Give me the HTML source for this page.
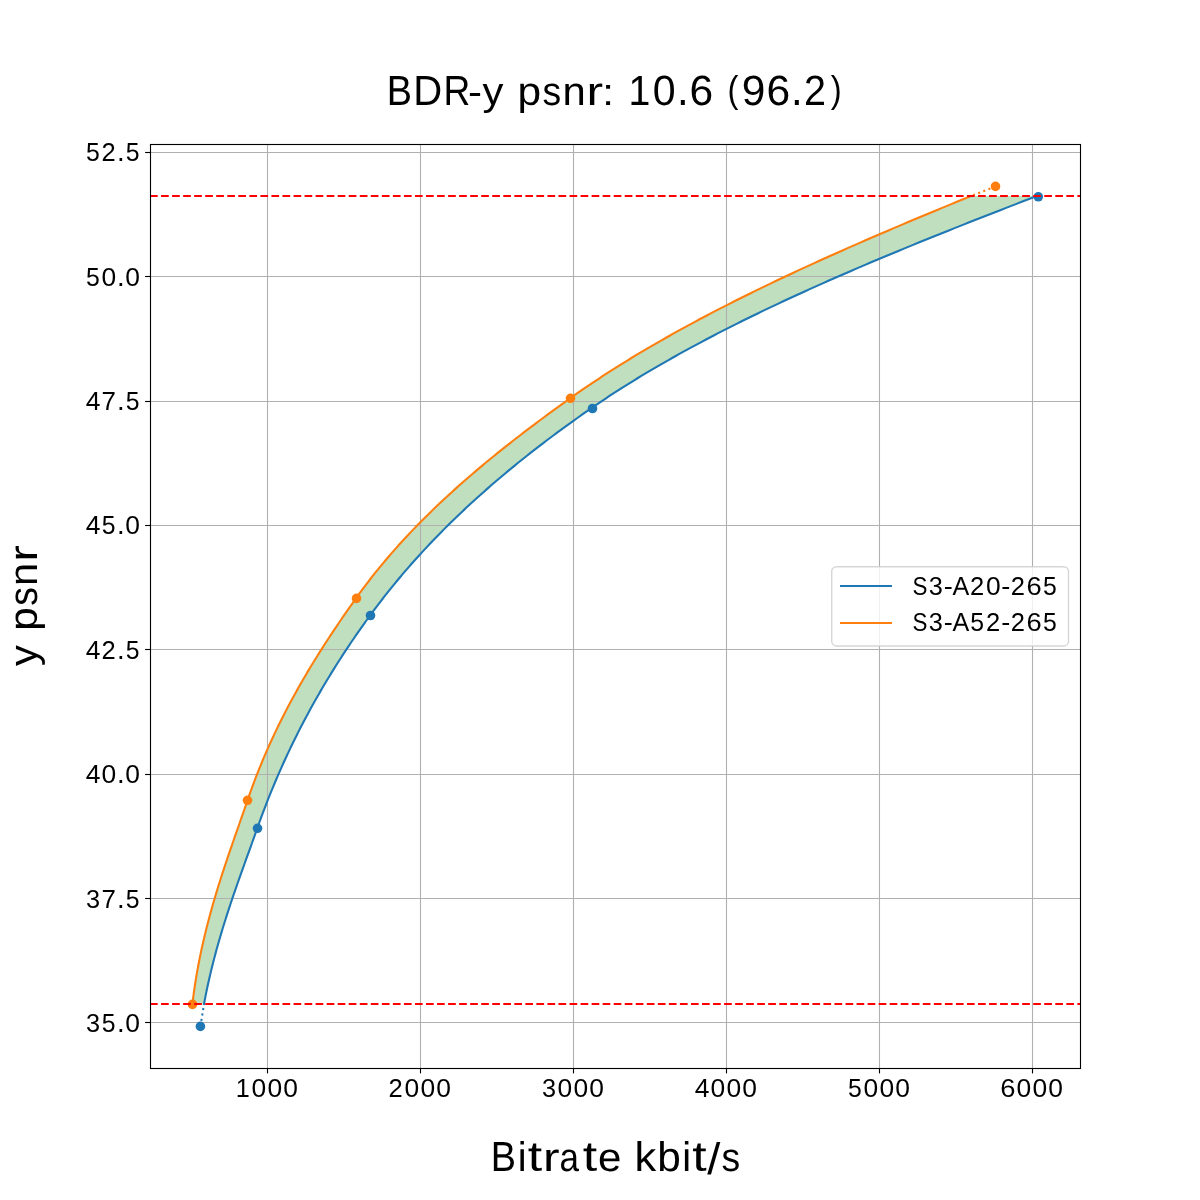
<!DOCTYPE html>
<html><head><meta charset="utf-8"><title>BDR-y psnr</title>
<style>html,body{margin:0;padding:0;background:#fff}body{width:1200px;height:1200px;overflow:hidden}</style>
</head><body>
<svg width="1200" height="1200" viewBox="0 0 1200 1200" style="display:block;will-change:transform;font-family:'Liberation Sans',sans-serif">
<rect width="1200" height="1200" fill="#fff"/>
<clipPath id="ax"><rect x="150" y="144" width="930" height="924"/></clipPath>
<g clip-path="url(#ax)">
<polygon points="192.41,1004.00 192.65,1001.97 192.90,999.95 193.15,997.92 193.42,995.90 193.69,993.87 193.97,991.85 194.25,989.82 194.55,987.80 194.85,985.77 195.16,983.75 195.48,981.72 195.80,979.70 196.13,977.67 196.47,975.65 196.82,973.62 197.17,971.60 197.54,969.57 197.91,967.55 198.28,965.52 198.67,963.50 199.06,961.47 199.46,959.45 199.86,957.42 200.28,955.40 200.70,953.37 201.13,951.35 201.56,949.32 202.00,947.30 202.45,945.27 202.91,943.25 203.37,941.22 203.84,939.20 204.31,937.17 204.79,935.15 205.28,933.12 205.78,931.10 206.28,929.07 206.79,927.05 207.31,925.02 207.83,923.00 208.36,920.97 208.89,918.95 209.43,916.92 209.98,914.90 210.53,912.87 211.09,910.85 211.65,908.82 212.22,906.80 212.80,904.77 213.38,902.75 213.97,900.72 214.56,898.70 215.16,896.67 215.77,894.65 216.38,892.62 216.99,890.60 217.61,888.57 218.24,886.55 218.87,884.52 219.50,882.50 220.14,880.47 220.78,878.45 221.43,876.42 222.08,874.40 222.74,872.37 223.40,870.35 224.07,868.32 224.74,866.30 225.41,864.27 226.08,862.25 226.76,860.22 227.44,858.20 228.13,856.17 228.82,854.15 229.51,852.12 230.20,850.10 230.90,848.07 231.60,846.05 232.30,844.02 233.00,841.99 233.70,839.97 234.41,837.94 235.11,835.92 235.82,833.89 236.53,831.87 237.24,829.84 237.95,827.82 238.66,825.79 239.37,823.77 240.08,821.74 240.79,819.72 241.49,817.69 242.20,815.67 242.91,813.64 243.61,811.62 244.32,809.59 245.02,807.57 245.72,805.54 246.41,803.52 247.11,801.49 247.80,799.47 248.50,797.44 249.20,795.42 249.92,793.39 250.64,791.37 251.37,789.34 252.10,787.32 252.85,785.29 253.60,783.27 254.36,781.24 255.13,779.22 255.91,777.19 256.70,775.17 257.49,773.14 258.29,771.12 259.10,769.09 259.92,767.07 260.74,765.04 261.58,763.02 262.42,760.99 263.27,758.97 264.13,756.94 265.00,754.92 265.87,752.89 266.75,750.87 267.65,748.84 268.54,746.82 269.45,744.79 270.37,742.77 271.29,740.74 272.23,738.72 273.17,736.69 274.12,734.67 275.07,732.64 276.04,730.62 277.01,728.59 277.99,726.57 278.98,724.54 279.98,722.52 280.99,720.49 282.01,718.47 283.03,716.44 284.06,714.42 285.10,712.39 286.15,710.37 287.21,708.34 288.27,706.32 289.34,704.29 290.42,702.27 291.51,700.24 292.61,698.22 293.72,696.19 294.83,694.17 295.95,692.14 297.08,690.12 298.22,688.09 299.36,686.07 300.52,684.04 301.68,682.02 302.85,679.99 304.03,677.96 305.21,675.94 306.41,673.91 307.61,671.89 308.82,669.86 310.03,667.84 311.26,665.81 312.49,663.79 313.73,661.76 314.97,659.74 316.23,657.71 317.49,655.69 318.76,653.66 320.03,651.64 321.32,649.61 322.61,647.59 323.90,645.56 325.21,643.54 326.52,641.51 327.84,639.49 329.16,637.46 330.49,635.44 331.83,633.41 333.18,631.39 334.53,629.36 335.89,627.34 337.25,625.31 338.62,623.29 340.00,621.26 341.38,619.24 342.77,617.21 344.16,615.19 345.56,613.16 346.96,611.14 348.37,609.11 349.79,607.09 351.21,605.06 352.63,603.04 354.06,601.01 355.50,598.99 356.94,596.96 358.39,594.94 359.86,592.91 361.35,590.89 362.84,588.86 364.35,586.84 365.88,584.81 367.42,582.79 368.98,580.76 370.55,578.74 372.13,576.71 373.73,574.69 375.34,572.66 376.97,570.64 378.62,568.61 380.27,566.59 381.95,564.56 383.63,562.54 385.34,560.51 387.06,558.49 388.79,556.46 390.54,554.44 392.30,552.41 394.08,550.39 395.87,548.36 397.68,546.34 399.50,544.31 401.34,542.29 403.20,540.26 405.07,538.24 406.95,536.21 408.85,534.19 410.77,532.16 412.70,530.14 414.64,528.11 416.61,526.09 418.58,524.06 420.58,522.04 422.58,520.01 424.61,517.98 426.65,515.96 428.70,513.93 430.77,511.91 432.85,509.88 434.95,507.86 437.07,505.83 439.20,503.81 441.35,501.78 443.51,499.76 445.69,497.73 447.88,495.71 450.09,493.68 452.31,491.66 454.55,489.63 456.80,487.61 459.07,485.58 461.35,483.56 463.65,481.53 465.97,479.51 468.29,477.48 470.64,475.46 473.00,473.43 475.37,471.41 477.76,469.38 480.16,467.36 482.58,465.33 485.01,463.31 487.45,461.28 489.92,459.26 492.39,457.23 494.88,455.21 497.38,453.18 499.90,451.16 502.43,449.13 504.97,447.11 507.53,445.08 510.11,443.06 512.69,441.03 515.29,439.01 517.90,436.98 520.53,434.96 523.16,432.93 525.82,430.91 528.48,428.88 531.15,426.86 533.84,424.83 536.54,422.81 539.26,420.78 541.98,418.76 544.72,416.73 547.46,414.71 550.22,412.68 552.99,410.66 555.77,408.63 558.57,406.61 561.37,404.58 564.18,402.56 567.00,400.53 569.84,398.51 572.68,396.48 575.56,394.46 578.45,392.43 581.37,390.41 584.32,388.38 587.28,386.36 590.28,384.33 593.30,382.31 596.34,380.28 599.41,378.26 602.50,376.23 605.62,374.21 608.76,372.18 611.92,370.16 615.11,368.13 618.33,366.11 621.57,364.08 624.84,362.06 628.13,360.03 631.44,358.01 634.79,355.98 638.15,353.95 641.54,351.93 644.96,349.90 648.40,347.88 651.86,345.85 655.35,343.83 658.87,341.80 662.41,339.78 665.98,337.75 669.57,335.73 673.18,333.70 676.82,331.68 680.49,329.65 684.18,327.63 687.89,325.60 691.63,323.58 695.40,321.55 699.19,319.53 703.00,317.50 706.84,315.48 710.70,313.45 714.59,311.43 718.50,309.40 722.43,307.38 726.39,305.35 730.37,303.33 734.38,301.30 738.41,299.28 742.47,297.25 746.54,295.23 750.65,293.20 754.77,291.18 758.92,289.15 763.09,287.13 767.28,285.10 771.50,283.08 775.74,281.05 780.00,279.03 784.29,277.00 788.59,274.98 792.92,272.95 797.27,270.93 801.64,268.90 806.03,266.88 810.45,264.85 814.88,262.83 819.34,260.80 823.81,258.78 828.31,256.75 832.82,254.73 837.36,252.70 841.91,250.68 846.49,248.65 851.08,246.63 855.69,244.60 860.32,242.58 864.97,240.55 869.63,238.53 874.32,236.50 879.02,234.48 883.73,232.45 888.46,230.43 893.21,228.40 897.98,226.38 902.76,224.35 907.55,222.33 912.36,220.30 917.19,218.28 922.02,216.25 926.87,214.23 931.74,212.20 936.61,210.18 941.50,208.15 946.40,206.13 951.31,204.10 956.24,202.08 961.17,200.05 966.11,198.03 971.06,196.00 1036.85,196.00 1031.60,198.03 1026.35,200.05 1021.11,202.08 1015.88,204.10 1010.66,206.13 1005.44,208.15 1000.24,210.18 995.04,212.20 989.86,214.23 984.69,216.25 979.53,218.28 974.38,220.30 969.24,222.33 964.12,224.35 959.02,226.38 953.92,228.40 948.84,230.43 943.78,232.45 938.73,234.48 933.70,236.50 928.69,238.53 923.69,240.55 918.71,242.58 913.74,244.60 908.80,246.63 903.87,248.65 898.96,250.68 894.07,252.70 889.20,254.73 884.35,256.75 879.52,258.78 874.71,260.80 869.93,262.83 865.16,264.85 860.41,266.88 855.69,268.90 850.98,270.93 846.30,272.95 841.65,274.98 837.01,277.00 832.40,279.03 827.81,281.05 823.24,283.08 818.70,285.10 814.18,287.13 809.69,289.15 805.21,291.18 800.77,293.20 796.35,295.23 791.95,297.25 787.58,299.28 783.23,301.30 778.91,303.33 774.61,305.35 770.34,307.38 766.09,309.40 761.87,311.43 757.68,313.45 753.51,315.48 749.37,317.50 745.25,319.53 741.16,321.55 737.10,323.58 733.06,325.60 729.05,327.63 725.07,329.65 721.11,331.68 717.18,333.70 713.28,335.73 709.40,337.75 705.55,339.78 701.73,341.80 697.93,343.83 694.16,345.85 690.42,347.88 686.70,349.90 683.02,351.93 679.36,353.95 675.72,355.98 672.11,358.01 668.54,360.03 664.98,362.06 661.46,364.08 657.96,366.11 654.49,368.13 651.04,370.16 647.63,372.18 644.24,374.21 640.87,376.23 637.54,378.26 634.23,380.28 630.95,382.31 627.69,384.33 624.46,386.36 621.26,388.38 618.09,390.41 614.94,392.43 611.82,394.46 608.72,396.48 605.66,398.51 602.62,400.53 599.60,402.56 596.61,404.58 593.65,406.61 590.71,408.63 587.79,410.66 584.89,412.68 582.00,414.71 579.13,416.73 576.28,418.76 573.44,420.78 570.61,422.81 567.81,424.83 565.02,426.86 562.24,428.88 559.48,430.91 556.74,432.93 554.01,434.96 551.30,436.98 548.60,439.01 545.92,441.03 543.26,443.06 540.61,445.08 537.98,447.11 535.36,449.13 532.76,451.16 530.18,453.18 527.61,455.21 525.05,457.23 522.52,459.26 519.99,461.28 517.49,463.31 514.99,465.33 512.52,467.36 510.06,469.38 507.61,471.41 505.18,473.43 502.77,475.46 500.37,477.48 497.98,479.51 495.61,481.53 493.26,483.56 490.92,485.58 488.60,487.61 486.29,489.63 484.00,491.66 481.72,493.68 479.45,495.71 477.20,497.73 474.97,499.76 472.75,501.78 470.54,503.81 468.35,505.83 466.18,507.86 464.02,509.88 461.87,511.91 459.74,513.93 457.62,515.96 455.52,517.98 453.43,520.01 451.35,522.04 449.29,524.06 447.24,526.09 445.21,528.11 443.19,530.14 441.19,532.16 439.20,534.19 437.22,536.21 435.25,538.24 433.30,540.26 431.37,542.29 429.45,544.31 427.54,546.34 425.64,548.36 423.76,550.39 421.89,552.41 420.04,554.44 418.19,556.46 416.36,558.49 414.55,560.51 412.74,562.54 410.96,564.56 409.18,566.59 407.41,568.61 405.66,570.64 403.92,572.66 402.20,574.69 400.49,576.71 398.79,578.74 397.10,580.76 395.42,582.79 393.76,584.81 392.11,586.84 390.47,588.86 388.84,590.89 387.23,592.91 385.63,594.94 384.04,596.96 382.46,598.99 380.89,601.01 379.34,603.04 377.80,605.06 376.27,607.09 374.75,609.11 373.24,611.14 371.74,613.16 370.26,615.19 368.78,617.21 367.32,619.24 365.86,621.26 364.41,623.29 362.97,625.31 361.53,627.34 360.11,629.36 358.69,631.39 357.28,633.41 355.88,635.44 354.49,637.46 353.11,639.49 351.73,641.51 350.36,643.54 349.00,645.56 347.65,647.59 346.31,649.61 344.97,651.64 343.65,653.66 342.33,655.69 341.02,657.71 339.71,659.74 338.42,661.76 337.13,663.79 335.85,665.81 334.58,667.84 333.32,669.86 332.06,671.89 330.82,673.91 329.58,675.94 328.35,677.96 327.12,679.99 325.91,682.02 324.70,684.04 323.50,686.07 322.31,688.09 321.12,690.12 319.95,692.14 318.78,694.17 317.62,696.19 316.46,698.22 315.32,700.24 314.18,702.27 313.05,704.29 311.93,706.32 310.81,708.34 309.70,710.37 308.60,712.39 307.51,714.42 306.42,716.44 305.35,718.47 304.28,720.49 303.21,722.52 302.16,724.54 301.11,726.57 300.07,728.59 299.03,730.62 298.01,732.64 296.99,734.67 295.98,736.69 294.97,738.72 293.97,740.74 292.98,742.77 292.00,744.79 291.02,746.82 290.05,748.84 289.09,750.87 288.14,752.89 287.19,754.92 286.25,756.94 285.31,758.97 284.38,760.99 283.46,763.02 282.55,765.04 281.64,767.07 280.74,769.09 279.85,771.12 278.96,773.14 278.08,775.17 277.21,777.19 276.34,779.22 275.48,781.24 274.62,783.27 273.78,785.29 272.94,787.32 272.10,789.34 271.27,791.37 270.45,793.39 269.64,795.42 268.83,797.44 268.02,799.47 267.23,801.49 266.44,803.52 265.65,805.54 264.88,807.57 264.10,809.59 263.34,811.62 262.58,813.64 261.83,815.67 261.08,817.69 260.34,819.72 259.60,821.74 258.87,823.77 258.15,825.79 257.43,827.82 256.72,829.84 256.00,831.87 255.28,833.89 254.56,835.92 253.84,837.94 253.11,839.97 252.38,841.99 251.65,844.02 250.93,846.05 250.20,848.07 249.47,850.10 248.73,852.12 248.00,854.15 247.27,856.17 246.54,858.20 245.81,860.22 245.08,862.25 244.35,864.27 243.63,866.30 242.90,868.32 242.18,870.35 241.45,872.37 240.73,874.40 240.01,876.42 239.30,878.45 238.58,880.47 237.87,882.50 237.16,884.52 236.45,886.55 235.75,888.57 235.05,890.60 234.35,892.62 233.66,894.65 232.97,896.67 232.28,898.70 231.60,900.72 230.92,902.75 230.25,904.77 229.58,906.80 228.91,908.82 228.25,910.85 227.59,912.87 226.94,914.90 226.29,916.92 225.65,918.95 225.01,920.97 224.38,923.00 223.75,925.02 223.12,927.05 222.51,929.07 221.90,931.10 221.29,933.12 220.69,935.15 220.09,937.17 219.50,939.20 218.92,941.22 218.34,943.25 217.77,945.27 217.20,947.30 216.64,949.32 216.09,951.35 215.54,953.37 215.00,955.40 214.46,957.42 213.94,959.45 213.41,961.47 212.90,963.50 212.39,965.52 211.89,967.55 211.39,969.57 210.90,971.60 210.42,973.62 209.94,975.65 209.47,977.67 209.01,979.70 208.55,981.72 208.11,983.75 207.66,985.77 207.23,987.80 206.80,989.82 206.38,991.85 205.97,993.87 205.56,995.90 205.16,997.92 204.77,999.95 204.39,1001.97 204.01,1004.00" fill="#008000" fill-opacity="0.25"/>
<g stroke="#b0b0b0" stroke-width="1.11">
<line x1="267.5" y1="144" x2="267.5" y2="1068"/>
<line x1="420.5" y1="144" x2="420.5" y2="1068"/>
<line x1="573.5" y1="144" x2="573.5" y2="1068"/>
<line x1="726.5" y1="144" x2="726.5" y2="1068"/>
<line x1="879.5" y1="144" x2="879.5" y2="1068"/>
<line x1="1032.5" y1="144" x2="1032.5" y2="1068"/>
<line x1="150" y1="152.5" x2="1080" y2="152.5"/>
<line x1="150" y1="276.5" x2="1080" y2="276.5"/>
<line x1="150" y1="401.5" x2="1080" y2="401.5"/>
<line x1="150" y1="525.5" x2="1080" y2="525.5"/>
<line x1="150" y1="649.5" x2="1080" y2="649.5"/>
<line x1="150" y1="774.5" x2="1080" y2="774.5"/>
<line x1="150" y1="898.5" x2="1080" y2="898.5"/>
<line x1="150" y1="1022.5" x2="1080" y2="1022.5"/>
</g>
<g fill="none" stroke-width="2.08" stroke-dasharray="2.08 3.44">
<path d="M200.40,1026.40 L204.01,1004.00" stroke="#1f77b4"/>
<path d="M995.50,186.40 L971.06,196.00" stroke="#ff7f0e"/>
</g>
<circle cx="200.40" cy="1026.40" r="4.8" fill="#1f77b4"/>
<circle cx="257.50" cy="828.30" r="4.8" fill="#1f77b4"/>
<circle cx="370.50" cy="615.50" r="4.8" fill="#1f77b4"/>
<circle cx="592.50" cy="408.50" r="4.8" fill="#1f77b4"/>
<circle cx="1038.30" cy="196.80" r="4.8" fill="#1f77b4"/>
<circle cx="192.50" cy="1004.40" r="4.8" fill="#ff7f0e"/>
<circle cx="247.50" cy="800.30" r="4.8" fill="#ff7f0e"/>
<circle cx="356.50" cy="598.40" r="4.8" fill="#ff7f0e"/>
<circle cx="570.50" cy="398.30" r="4.8" fill="#ff7f0e"/>
<circle cx="995.50" cy="186.40" r="4.8" fill="#ff7f0e"/>
<line x1="150" y1="1004.0" x2="1080" y2="1004.0" stroke="#ff0000" stroke-width="2.08" stroke-dasharray="7.7 3.34"/>
<polyline points="192.41,1004.00 192.65,1001.97 192.90,999.95 193.15,997.92 193.42,995.90 193.69,993.87 193.97,991.85 194.25,989.82 194.55,987.80 194.85,985.77 195.16,983.75 195.48,981.72 195.80,979.70 196.13,977.67 196.47,975.65 196.82,973.62 197.17,971.60 197.54,969.57 197.91,967.55 198.28,965.52 198.67,963.50 199.06,961.47 199.46,959.45 199.86,957.42 200.28,955.40 200.70,953.37 201.13,951.35 201.56,949.32 202.00,947.30 202.45,945.27 202.91,943.25 203.37,941.22 203.84,939.20 204.31,937.17 204.79,935.15 205.28,933.12 205.78,931.10 206.28,929.07 206.79,927.05 207.31,925.02 207.83,923.00 208.36,920.97 208.89,918.95 209.43,916.92 209.98,914.90 210.53,912.87 211.09,910.85 211.65,908.82 212.22,906.80 212.80,904.77 213.38,902.75 213.97,900.72 214.56,898.70 215.16,896.67 215.77,894.65 216.38,892.62 216.99,890.60 217.61,888.57 218.24,886.55 218.87,884.52 219.50,882.50 220.14,880.47 220.78,878.45 221.43,876.42 222.08,874.40 222.74,872.37 223.40,870.35 224.07,868.32 224.74,866.30 225.41,864.27 226.08,862.25 226.76,860.22 227.44,858.20 228.13,856.17 228.82,854.15 229.51,852.12 230.20,850.10 230.90,848.07 231.60,846.05 232.30,844.02 233.00,841.99 233.70,839.97 234.41,837.94 235.11,835.92 235.82,833.89 236.53,831.87 237.24,829.84 237.95,827.82 238.66,825.79 239.37,823.77 240.08,821.74 240.79,819.72 241.49,817.69 242.20,815.67 242.91,813.64 243.61,811.62 244.32,809.59 245.02,807.57 245.72,805.54 246.41,803.52 247.11,801.49 247.80,799.47 248.50,797.44 249.20,795.42 249.92,793.39 250.64,791.37 251.37,789.34 252.10,787.32 252.85,785.29 253.60,783.27 254.36,781.24 255.13,779.22 255.91,777.19 256.70,775.17 257.49,773.14 258.29,771.12 259.10,769.09 259.92,767.07 260.74,765.04 261.58,763.02 262.42,760.99 263.27,758.97 264.13,756.94 265.00,754.92 265.87,752.89 266.75,750.87 267.65,748.84 268.54,746.82 269.45,744.79 270.37,742.77 271.29,740.74 272.23,738.72 273.17,736.69 274.12,734.67 275.07,732.64 276.04,730.62 277.01,728.59 277.99,726.57 278.98,724.54 279.98,722.52 280.99,720.49 282.01,718.47 283.03,716.44 284.06,714.42 285.10,712.39 286.15,710.37 287.21,708.34 288.27,706.32 289.34,704.29 290.42,702.27 291.51,700.24 292.61,698.22 293.72,696.19 294.83,694.17 295.95,692.14 297.08,690.12 298.22,688.09 299.36,686.07 300.52,684.04 301.68,682.02 302.85,679.99 304.03,677.96 305.21,675.94 306.41,673.91 307.61,671.89 308.82,669.86 310.03,667.84 311.26,665.81 312.49,663.79 313.73,661.76 314.97,659.74 316.23,657.71 317.49,655.69 318.76,653.66 320.03,651.64 321.32,649.61 322.61,647.59 323.90,645.56 325.21,643.54 326.52,641.51 327.84,639.49 329.16,637.46 330.49,635.44 331.83,633.41 333.18,631.39 334.53,629.36 335.89,627.34 337.25,625.31 338.62,623.29 340.00,621.26 341.38,619.24 342.77,617.21 344.16,615.19 345.56,613.16 346.96,611.14 348.37,609.11 349.79,607.09 351.21,605.06 352.63,603.04 354.06,601.01 355.50,598.99 356.94,596.96 358.39,594.94 359.86,592.91 361.35,590.89 362.84,588.86 364.35,586.84 365.88,584.81 367.42,582.79 368.98,580.76 370.55,578.74 372.13,576.71 373.73,574.69 375.34,572.66 376.97,570.64 378.62,568.61 380.27,566.59 381.95,564.56 383.63,562.54 385.34,560.51 387.06,558.49 388.79,556.46 390.54,554.44 392.30,552.41 394.08,550.39 395.87,548.36 397.68,546.34 399.50,544.31 401.34,542.29 403.20,540.26 405.07,538.24 406.95,536.21 408.85,534.19 410.77,532.16 412.70,530.14 414.64,528.11 416.61,526.09 418.58,524.06 420.58,522.04 422.58,520.01 424.61,517.98 426.65,515.96 428.70,513.93 430.77,511.91 432.85,509.88 434.95,507.86 437.07,505.83 439.20,503.81 441.35,501.78 443.51,499.76 445.69,497.73 447.88,495.71 450.09,493.68 452.31,491.66 454.55,489.63 456.80,487.61 459.07,485.58 461.35,483.56 463.65,481.53 465.97,479.51 468.29,477.48 470.64,475.46 473.00,473.43 475.37,471.41 477.76,469.38 480.16,467.36 482.58,465.33 485.01,463.31 487.45,461.28 489.92,459.26 492.39,457.23 494.88,455.21 497.38,453.18 499.90,451.16 502.43,449.13 504.97,447.11 507.53,445.08 510.11,443.06 512.69,441.03 515.29,439.01 517.90,436.98 520.53,434.96 523.16,432.93 525.82,430.91 528.48,428.88 531.15,426.86 533.84,424.83 536.54,422.81 539.26,420.78 541.98,418.76 544.72,416.73 547.46,414.71 550.22,412.68 552.99,410.66 555.77,408.63 558.57,406.61 561.37,404.58 564.18,402.56 567.00,400.53 569.84,398.51 572.68,396.48 575.56,394.46 578.45,392.43 581.37,390.41 584.32,388.38 587.28,386.36 590.28,384.33 593.30,382.31 596.34,380.28 599.41,378.26 602.50,376.23 605.62,374.21 608.76,372.18 611.92,370.16 615.11,368.13 618.33,366.11 621.57,364.08 624.84,362.06 628.13,360.03 631.44,358.01 634.79,355.98 638.15,353.95 641.54,351.93 644.96,349.90 648.40,347.88 651.86,345.85 655.35,343.83 658.87,341.80 662.41,339.78 665.98,337.75 669.57,335.73 673.18,333.70 676.82,331.68 680.49,329.65 684.18,327.63 687.89,325.60 691.63,323.58 695.40,321.55 699.19,319.53 703.00,317.50 706.84,315.48 710.70,313.45 714.59,311.43 718.50,309.40 722.43,307.38 726.39,305.35 730.37,303.33 734.38,301.30 738.41,299.28 742.47,297.25 746.54,295.23 750.65,293.20 754.77,291.18 758.92,289.15 763.09,287.13 767.28,285.10 771.50,283.08 775.74,281.05 780.00,279.03 784.29,277.00 788.59,274.98 792.92,272.95 797.27,270.93 801.64,268.90 806.03,266.88 810.45,264.85 814.88,262.83 819.34,260.80 823.81,258.78 828.31,256.75 832.82,254.73 837.36,252.70 841.91,250.68 846.49,248.65 851.08,246.63 855.69,244.60 860.32,242.58 864.97,240.55 869.63,238.53 874.32,236.50 879.02,234.48 883.73,232.45 888.46,230.43 893.21,228.40 897.98,226.38 902.76,224.35 907.55,222.33 912.36,220.30 917.19,218.28 922.02,216.25 926.87,214.23 931.74,212.20 936.61,210.18 941.50,208.15 946.40,206.13 951.31,204.10 956.24,202.08 961.17,200.05 966.11,198.03 971.06,196.00" fill="none" stroke="#ff7f0e" stroke-width="2.08" stroke-linecap="square" stroke-linejoin="round"/>
<polyline points="204.01,1004.00 204.39,1001.97 204.77,999.95 205.16,997.92 205.56,995.90 205.97,993.87 206.38,991.85 206.80,989.82 207.23,987.80 207.66,985.77 208.11,983.75 208.55,981.72 209.01,979.70 209.47,977.67 209.94,975.65 210.42,973.62 210.90,971.60 211.39,969.57 211.89,967.55 212.39,965.52 212.90,963.50 213.41,961.47 213.94,959.45 214.46,957.42 215.00,955.40 215.54,953.37 216.09,951.35 216.64,949.32 217.20,947.30 217.77,945.27 218.34,943.25 218.92,941.22 219.50,939.20 220.09,937.17 220.69,935.15 221.29,933.12 221.90,931.10 222.51,929.07 223.12,927.05 223.75,925.02 224.38,923.00 225.01,920.97 225.65,918.95 226.29,916.92 226.94,914.90 227.59,912.87 228.25,910.85 228.91,908.82 229.58,906.80 230.25,904.77 230.92,902.75 231.60,900.72 232.28,898.70 232.97,896.67 233.66,894.65 234.35,892.62 235.05,890.60 235.75,888.57 236.45,886.55 237.16,884.52 237.87,882.50 238.58,880.47 239.30,878.45 240.01,876.42 240.73,874.40 241.45,872.37 242.18,870.35 242.90,868.32 243.63,866.30 244.35,864.27 245.08,862.25 245.81,860.22 246.54,858.20 247.27,856.17 248.00,854.15 248.73,852.12 249.47,850.10 250.20,848.07 250.93,846.05 251.65,844.02 252.38,841.99 253.11,839.97 253.84,837.94 254.56,835.92 255.28,833.89 256.00,831.87 256.72,829.84 257.43,827.82 258.15,825.79 258.87,823.77 259.60,821.74 260.34,819.72 261.08,817.69 261.83,815.67 262.58,813.64 263.34,811.62 264.10,809.59 264.88,807.57 265.65,805.54 266.44,803.52 267.23,801.49 268.02,799.47 268.83,797.44 269.64,795.42 270.45,793.39 271.27,791.37 272.10,789.34 272.94,787.32 273.78,785.29 274.62,783.27 275.48,781.24 276.34,779.22 277.21,777.19 278.08,775.17 278.96,773.14 279.85,771.12 280.74,769.09 281.64,767.07 282.55,765.04 283.46,763.02 284.38,760.99 285.31,758.97 286.25,756.94 287.19,754.92 288.14,752.89 289.09,750.87 290.05,748.84 291.02,746.82 292.00,744.79 292.98,742.77 293.97,740.74 294.97,738.72 295.98,736.69 296.99,734.67 298.01,732.64 299.03,730.62 300.07,728.59 301.11,726.57 302.16,724.54 303.21,722.52 304.28,720.49 305.35,718.47 306.42,716.44 307.51,714.42 308.60,712.39 309.70,710.37 310.81,708.34 311.93,706.32 313.05,704.29 314.18,702.27 315.32,700.24 316.46,698.22 317.62,696.19 318.78,694.17 319.95,692.14 321.12,690.12 322.31,688.09 323.50,686.07 324.70,684.04 325.91,682.02 327.12,679.99 328.35,677.96 329.58,675.94 330.82,673.91 332.06,671.89 333.32,669.86 334.58,667.84 335.85,665.81 337.13,663.79 338.42,661.76 339.71,659.74 341.02,657.71 342.33,655.69 343.65,653.66 344.97,651.64 346.31,649.61 347.65,647.59 349.00,645.56 350.36,643.54 351.73,641.51 353.11,639.49 354.49,637.46 355.88,635.44 357.28,633.41 358.69,631.39 360.11,629.36 361.53,627.34 362.97,625.31 364.41,623.29 365.86,621.26 367.32,619.24 368.78,617.21 370.26,615.19 371.74,613.16 373.24,611.14 374.75,609.11 376.27,607.09 377.80,605.06 379.34,603.04 380.89,601.01 382.46,598.99 384.04,596.96 385.63,594.94 387.23,592.91 388.84,590.89 390.47,588.86 392.11,586.84 393.76,584.81 395.42,582.79 397.10,580.76 398.79,578.74 400.49,576.71 402.20,574.69 403.92,572.66 405.66,570.64 407.41,568.61 409.18,566.59 410.96,564.56 412.74,562.54 414.55,560.51 416.36,558.49 418.19,556.46 420.04,554.44 421.89,552.41 423.76,550.39 425.64,548.36 427.54,546.34 429.45,544.31 431.37,542.29 433.30,540.26 435.25,538.24 437.22,536.21 439.20,534.19 441.19,532.16 443.19,530.14 445.21,528.11 447.24,526.09 449.29,524.06 451.35,522.04 453.43,520.01 455.52,517.98 457.62,515.96 459.74,513.93 461.87,511.91 464.02,509.88 466.18,507.86 468.35,505.83 470.54,503.81 472.75,501.78 474.97,499.76 477.20,497.73 479.45,495.71 481.72,493.68 484.00,491.66 486.29,489.63 488.60,487.61 490.92,485.58 493.26,483.56 495.61,481.53 497.98,479.51 500.37,477.48 502.77,475.46 505.18,473.43 507.61,471.41 510.06,469.38 512.52,467.36 514.99,465.33 517.49,463.31 519.99,461.28 522.52,459.26 525.05,457.23 527.61,455.21 530.18,453.18 532.76,451.16 535.36,449.13 537.98,447.11 540.61,445.08 543.26,443.06 545.92,441.03 548.60,439.01 551.30,436.98 554.01,434.96 556.74,432.93 559.48,430.91 562.24,428.88 565.02,426.86 567.81,424.83 570.61,422.81 573.44,420.78 576.28,418.76 579.13,416.73 582.00,414.71 584.89,412.68 587.79,410.66 590.71,408.63 593.65,406.61 596.61,404.58 599.60,402.56 602.62,400.53 605.66,398.51 608.72,396.48 611.82,394.46 614.94,392.43 618.09,390.41 621.26,388.38 624.46,386.36 627.69,384.33 630.95,382.31 634.23,380.28 637.54,378.26 640.87,376.23 644.24,374.21 647.63,372.18 651.04,370.16 654.49,368.13 657.96,366.11 661.46,364.08 664.98,362.06 668.54,360.03 672.11,358.01 675.72,355.98 679.36,353.95 683.02,351.93 686.70,349.90 690.42,347.88 694.16,345.85 697.93,343.83 701.73,341.80 705.55,339.78 709.40,337.75 713.28,335.73 717.18,333.70 721.11,331.68 725.07,329.65 729.05,327.63 733.06,325.60 737.10,323.58 741.16,321.55 745.25,319.53 749.37,317.50 753.51,315.48 757.68,313.45 761.87,311.43 766.09,309.40 770.34,307.38 774.61,305.35 778.91,303.33 783.23,301.30 787.58,299.28 791.95,297.25 796.35,295.23 800.77,293.20 805.21,291.18 809.69,289.15 814.18,287.13 818.70,285.10 823.24,283.08 827.81,281.05 832.40,279.03 837.01,277.00 841.65,274.98 846.30,272.95 850.98,270.93 855.69,268.90 860.41,266.88 865.16,264.85 869.93,262.83 874.71,260.80 879.52,258.78 884.35,256.75 889.20,254.73 894.07,252.70 898.96,250.68 903.87,248.65 908.80,246.63 913.74,244.60 918.71,242.58 923.69,240.55 928.69,238.53 933.70,236.50 938.73,234.48 943.78,232.45 948.84,230.43 953.92,228.40 959.02,226.38 964.12,224.35 969.24,222.33 974.38,220.30 979.53,218.28 984.69,216.25 989.86,214.23 995.04,212.20 1000.24,210.18 1005.44,208.15 1010.66,206.13 1015.88,204.10 1021.11,202.08 1026.35,200.05 1031.60,198.03 1036.85,196.00" fill="none" stroke="#1f77b4" stroke-width="2.08" stroke-linecap="square" stroke-linejoin="round"/>
<line x1="150" y1="196.0" x2="1080" y2="196.0" stroke="#ff0000" stroke-width="2.08" stroke-dasharray="7.7 3.34"/>
</g>
<rect x="150.5" y="144.5" width="930" height="924" fill="none" stroke="#000" stroke-width="1.11"/>
<g stroke="#000" stroke-width="1.11">
<line x1="267.5" y1="1068.5" x2="267.5" y2="1073.4"/>
<line x1="420.5" y1="1068.5" x2="420.5" y2="1073.4"/>
<line x1="573.5" y1="1068.5" x2="573.5" y2="1073.4"/>
<line x1="726.5" y1="1068.5" x2="726.5" y2="1073.4"/>
<line x1="879.5" y1="1068.5" x2="879.5" y2="1073.4"/>
<line x1="1032.5" y1="1068.5" x2="1032.5" y2="1073.4"/>
<line x1="145.1" y1="152.5" x2="150.5" y2="152.5"/>
<line x1="145.1" y1="276.5" x2="150.5" y2="276.5"/>
<line x1="145.1" y1="401.5" x2="150.5" y2="401.5"/>
<line x1="145.1" y1="525.5" x2="150.5" y2="525.5"/>
<line x1="145.1" y1="649.5" x2="150.5" y2="649.5"/>
<line x1="145.1" y1="774.5" x2="150.5" y2="774.5"/>
<line x1="145.1" y1="898.5" x2="150.5" y2="898.5"/>
<line x1="145.1" y1="1022.5" x2="150.5" y2="1022.5"/>
</g>
<g font-size="40.0" fill="#000">
<text transform="matrix(0.6196,0.00062,0,0.6449,85.88,160.75)">5</text><text transform="matrix(0.6379,0.00064,0,0.6445,101.50,161.00)">2</text><text transform="matrix(0.6892,0.00069,0,0.7014,116.92,161.00)">.</text><text transform="matrix(0.6196,0.00062,0,0.6449,125.64,160.75)">5</text>
<text transform="matrix(0.6196,0.00062,0,0.6449,85.88,285.75)">5</text><text transform="matrix(0.6603,0.00066,0,0.6356,101.50,285.75)">0</text><text transform="matrix(0.6892,0.00069,0,0.7014,116.92,286.00)">.</text><text transform="matrix(0.6603,0.00066,0,0.6356,125.35,285.75)">0</text>
<text transform="matrix(0.6605,0.00066,0,0.6541,85.64,410.00)">4</text><text transform="matrix(0.6462,0.00065,0,0.6541,101.58,410.00)">7</text><text transform="matrix(0.6892,0.00069,0,0.7014,116.92,410.00)">.</text><text transform="matrix(0.6196,0.00062,0,0.6449,125.64,409.75)">5</text>
<text transform="matrix(0.6605,0.00066,0,0.6541,85.64,534.00)">4</text><text transform="matrix(0.6196,0.00062,0,0.6449,101.79,533.75)">5</text><text transform="matrix(0.6892,0.00069,0,0.7014,116.92,534.00)">.</text><text transform="matrix(0.6603,0.00066,0,0.6356,125.35,533.75)">0</text>
<text transform="matrix(0.6605,0.00066,0,0.6541,85.64,659.00)">4</text><text transform="matrix(0.6379,0.00064,0,0.6445,101.50,659.00)">2</text><text transform="matrix(0.6892,0.00069,0,0.7014,116.92,659.00)">.</text><text transform="matrix(0.6196,0.00062,0,0.6449,125.64,658.75)">5</text>
<text transform="matrix(0.6605,0.00066,0,0.6541,85.64,783.00)">4</text><text transform="matrix(0.6603,0.00066,0,0.6356,101.50,782.75)">0</text><text transform="matrix(0.6892,0.00069,0,0.7014,116.92,783.00)">.</text><text transform="matrix(0.6603,0.00066,0,0.6356,125.35,782.75)">0</text>
<text transform="matrix(0.6327,0.00063,0,0.6356,85.91,907.75)">3</text><text transform="matrix(0.6462,0.00065,0,0.6541,101.58,908.00)">7</text><text transform="matrix(0.6892,0.00069,0,0.7014,116.92,908.00)">.</text><text transform="matrix(0.6196,0.00062,0,0.6449,125.64,907.75)">5</text>
<text transform="matrix(0.6327,0.00063,0,0.6356,85.91,1031.75)">3</text><text transform="matrix(0.6196,0.00062,0,0.6449,101.79,1031.75)">5</text><text transform="matrix(0.6892,0.00069,0,0.7014,116.92,1032.00)">.</text><text transform="matrix(0.6603,0.00066,0,0.6356,125.35,1031.75)">0</text>
<text transform="matrix(0.6306,0.00063,0,0.6541,235.83,1097.00)">1</text><text transform="matrix(0.6603,0.00066,0,0.6356,251.50,1096.75)">0</text><text transform="matrix(0.6603,0.00066,0,0.6356,267.40,1096.75)">0</text><text transform="matrix(0.6603,0.00066,0,0.6356,283.31,1096.75)">0</text>
<text transform="matrix(0.6379,0.00064,0,0.6445,388.59,1097.00)">2</text><text transform="matrix(0.6603,0.00066,0,0.6356,404.50,1096.75)">0</text><text transform="matrix(0.6603,0.00066,0,0.6356,420.40,1096.75)">0</text><text transform="matrix(0.6603,0.00066,0,0.6356,436.31,1096.75)">0</text>
<text transform="matrix(0.6327,0.00063,0,0.6356,541.91,1096.75)">3</text><text transform="matrix(0.6603,0.00066,0,0.6356,557.50,1096.75)">0</text><text transform="matrix(0.6603,0.00066,0,0.6356,573.40,1096.75)">0</text><text transform="matrix(0.6603,0.00066,0,0.6356,589.31,1096.75)">0</text>
<text transform="matrix(0.6605,0.00066,0,0.6541,694.64,1097.00)">4</text><text transform="matrix(0.6603,0.00066,0,0.6356,710.50,1096.75)">0</text><text transform="matrix(0.6603,0.00066,0,0.6356,726.40,1096.75)">0</text><text transform="matrix(0.6603,0.00066,0,0.6356,742.31,1096.75)">0</text>
<text transform="matrix(0.6196,0.00062,0,0.6449,847.88,1096.75)">5</text><text transform="matrix(0.6603,0.00066,0,0.6356,863.50,1096.75)">0</text><text transform="matrix(0.6603,0.00066,0,0.6356,879.40,1096.75)">0</text><text transform="matrix(0.6603,0.00066,0,0.6356,895.31,1096.75)">0</text>
<text transform="matrix(0.6840,0.00068,0,0.6356,1000.36,1096.75)">6</text><text transform="matrix(0.6603,0.00066,0,0.6356,1016.50,1096.75)">0</text><text transform="matrix(0.6603,0.00066,0,0.6356,1032.40,1096.75)">0</text><text transform="matrix(0.6603,0.00066,0,0.6356,1048.31,1096.75)">0</text>
<text transform="matrix(0.9453,0.00095,0,1.0538,386.77,105.00)">B</text><text transform="matrix(1.0025,0.00100,0,1.0538,413.26,105.00)">D</text><text transform="matrix(0.9276,0.00093,0,1.0538,443.44,105.00)">R</text><text transform="matrix(1.0496,0.00105,0,0.9550,468.00,104.65)">-</text><text transform="matrix(1.0443,0.00104,0,0.9853,482.49,104.82)">y</text><text transform="matrix(1.0597,0.00106,0,0.9898,517.52,104.78)">p</text><text transform="matrix(0.9317,0.00093,0,1.0066,542.52,105.11)">s</text><text transform="matrix(1.0446,0.00104,0,0.9989,562.41,105.00)">n</text><text transform="matrix(1.2437,0.00124,0,0.9989,586.52,105.00)">r</text><text transform="matrix(1.0503,0.00105,0,0.9464,602.35,105.00)">:</text><text transform="matrix(0.9821,0.00098,0,1.0538,628.46,105.00)">1</text><text transform="matrix(1.0264,0.00103,0,1.0593,652.77,105.09)">0</text><text transform="matrix(1.0503,0.00105,0,1.1689,676.89,105.00)">.</text><text transform="matrix(1.0633,0.00106,0,1.0593,689.55,105.09)">6</text><text transform="matrix(0.8192,0.00082,0,0.9392,727.40,102.22)">(</text><text transform="matrix(1.0622,0.00106,0,1.0593,741.73,105.09)">9</text><text transform="matrix(1.0633,0.00106,0,1.0593,766.54,105.09)">6</text><text transform="matrix(1.0503,0.00105,0,1.1689,790.98,105.00)">.</text><text transform="matrix(0.9878,0.00099,0,1.0562,803.93,105.00)">2</text><text transform="matrix(0.8206,0.00082,0,0.9392,830.69,102.22)">)</text>
<text transform="matrix(0.9453,0.00095,0,1.0538,490.77,1171.00)">B</text><text transform="matrix(0.9956,0.00100,0,1.0350,517.63,1171.00)">i</text><text transform="matrix(1.2971,0.00130,0,1.0507,527.68,1170.67)">t</text><text transform="matrix(1.2437,0.00124,0,0.9989,542.91,1171.00)">r</text><text transform="matrix(0.8760,0.00088,0,1.0039,559.58,1171.11)">a</text><text transform="matrix(1.2971,0.00130,0,1.0507,582.73,1170.67)">t</text><text transform="matrix(1.0522,0.00105,0,1.0039,598.10,1171.11)">e</text><text transform="matrix(1.0862,0.00109,0,1.0350,634.61,1171.00)">k</text><text transform="matrix(1.0597,0.00106,0,1.0383,657.32,1171.09)">b</text><text transform="matrix(0.9956,0.00100,0,1.0350,682.19,1171.00)">i</text><text transform="matrix(1.2971,0.00130,0,1.0507,692.24,1170.67)">t</text><text transform="matrix(1.1782,0.00118,0,1.1064,707.27,1174.07)">/</text><text transform="matrix(0.9317,0.00093,0,1.0066,721.45,1171.11)">s</text>
<g transform="translate(37,667) rotate(-90)"><text transform="matrix(1.0443,0.00104,0,0.9853,1.10,-0.18)">y</text><text transform="matrix(1.0597,0.00106,0,0.9898,36.13,-0.22)">p</text><text transform="matrix(0.9317,0.00093,0,1.0066,61.13,0.11)">s</text><text transform="matrix(1.0446,0.00104,0,0.9989,81.02,0.00)">n</text><text transform="matrix(1.2437,0.00124,0,0.9989,105.13,0.00)">r</text></g>
</g>
<rect x="831.7" y="566.7" width="236.8" height="79.3" rx="4.8" ry="4.8" fill="#fff" fill-opacity="0.8" stroke="#ccc" stroke-opacity="0.8" stroke-width="1.39"/>
<line x1="840" y1="586" x2="892" y2="586" stroke="#1f77b4" stroke-width="2.08"/>
<line x1="840" y1="623" x2="892" y2="623" stroke="#ff7f0e" stroke-width="2.08"/>
<g font-size="40.0" fill="#000">
<text transform="matrix(0.5591,0.00056,0,0.6356,912.61,594.75)">S</text><text transform="matrix(0.6327,0.00063,0,0.6356,928.78,594.75)">3</text><text transform="matrix(0.6784,0.00068,0,0.6100,943.82,594.53)">-</text><text transform="matrix(0.6292,0.00063,0,0.6541,952.45,595.00)">A</text><text transform="matrix(0.6379,0.00064,0,0.6445,969.99,595.00)">2</text><text transform="matrix(0.6603,0.00066,0,0.6356,985.90,594.75)">0</text><text transform="matrix(0.6784,0.00068,0,0.6100,1001.25,594.53)">-</text><text transform="matrix(0.6379,0.00064,0,0.6445,1010.82,595.00)">2</text><text transform="matrix(0.6840,0.00068,0,0.6356,1026.50,594.75)">6</text><text transform="matrix(0.6196,0.00062,0,0.6449,1042.92,594.75)">5</text>
<text transform="matrix(0.5591,0.00056,0,0.6356,912.61,630.75)">S</text><text transform="matrix(0.6327,0.00063,0,0.6356,928.78,630.75)">3</text><text transform="matrix(0.6784,0.00068,0,0.6100,943.82,630.53)">-</text><text transform="matrix(0.6292,0.00063,0,0.6541,952.45,631.00)">A</text><text transform="matrix(0.6196,0.00062,0,0.6449,970.28,630.75)">5</text><text transform="matrix(0.6379,0.00064,0,0.6445,985.90,631.00)">2</text><text transform="matrix(0.6784,0.00068,0,0.6100,1001.25,630.53)">-</text><text transform="matrix(0.6379,0.00064,0,0.6445,1010.82,631.00)">2</text><text transform="matrix(0.6840,0.00068,0,0.6356,1026.50,630.75)">6</text><text transform="matrix(0.6196,0.00062,0,0.6449,1042.92,630.75)">5</text>
</g>
</svg>
</body></html>
